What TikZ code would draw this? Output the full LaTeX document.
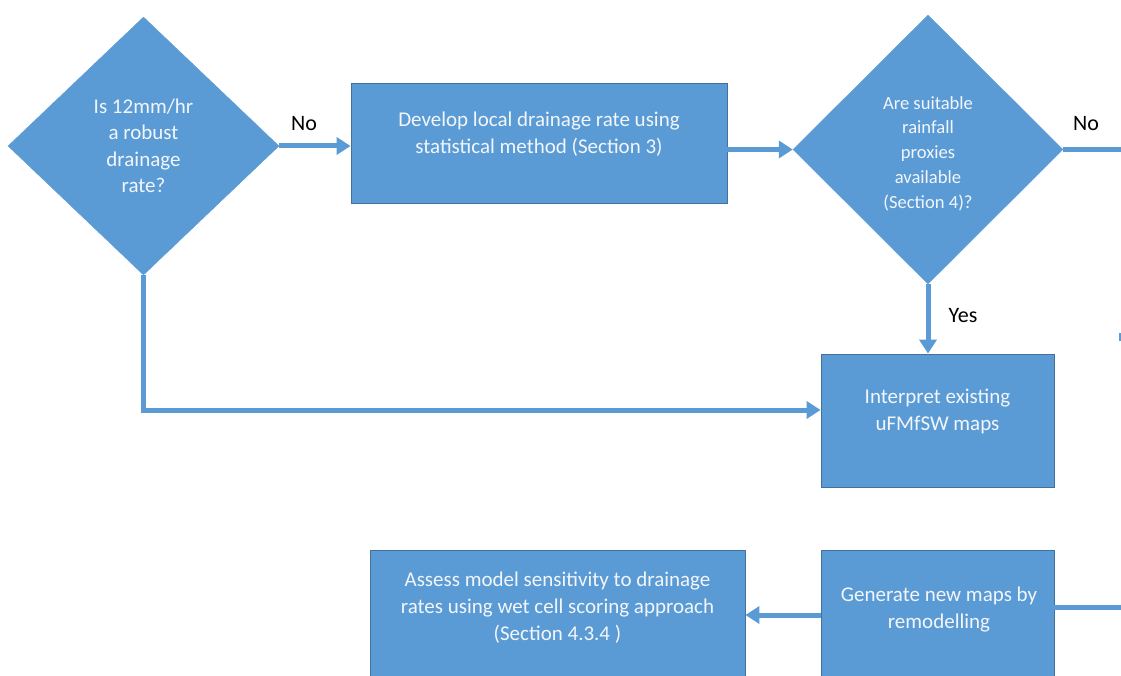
\documentclass[tikz,border=0pt]{standalone}
\usepackage{fontspec}
\setmainfont{Carlito}
\usetikzlibrary{shapes.geometric,arrows.meta,calc}
\definecolor{boxfill}{RGB}{91,155,213}
\definecolor{boxedge}{RGB}{65,113,156}
\definecolor{txtw}{RGB}{242,246,250}
\tikzset{
  decision/.style={diamond,fill=boxfill,draw=boxfill,inner sep=0pt,text=txtw,align=center,font=\fontsize{21}{26.5}\selectfont},
  process/.style={rectangle,fill=boxfill,draw=boxedge,line width=0.8pt,inner sep=0pt},
  ptext/.style={text=txtw,align=center,font=\fontsize{21}{27}\selectfont,inner sep=0pt},
  lbl/.style={text=black,font=\fontsize{22}{24}\selectfont,inner sep=0pt},
  conn/.style={draw=boxfill,line width=5pt},
  arr/.style={conn,-{Triangle[length=14pt,width=17pt]}},
}
\begin{document}
\begin{tikzpicture}[x=1pt,y=-1pt]
\useasboundingbox (0,0) rectangle (1121,676);
\clip (0,0) rectangle (1121,676);
% decisions
\node[decision,minimum width=271pt,minimum height=258pt] (d1) at (143.5,146) {Is 12mm/hr\\a robust\\drainage\\rate?};
\node[decision,minimum width=270pt,minimum height=269pt] (d2) at (928,149.5) {};
\node[ptext,font=\fontsize{18.6}{24.8}\selectfont] (t2d) at ($(d2.center)+(0,4)$) {Are suitable\\rainfall\\proxies\\available\\(Section 4)?};
% process boxes
\node[process,minimum width=376pt,minimum height=120pt] (b1) at (539,143) {};
\node[ptext] (t1) at ($(b1.center)+(0,-8.5)$) {Develop local drainage rate using\\statistical method (Section 3)};
\node[process,minimum width=233pt,minimum height=133pt] (b2) at (937.5,420.5) {};
\node[ptext] (t2) at ($(b2.center)+(0,-9)$) {Interpret existing\\uFMfSW maps};
\node[process,minimum width=233pt,minimum height=140pt] (b3) at (937.5,620) {};
\node[ptext] (t3) at (939,609.5) {Generate new maps by\\remodelling};
\node[process,minimum width=375pt,minimum height=140pt] (b4) at (557.5,620) {};
\node[ptext] (t4) at (557.5,608) {Assess model sensitivity to drainage\\rates using wet cell scoring approach\\(Section 4.3.4 )};
% free ends
\coordinate (e1) at (1121,149.5);
\coordinate (e2) at (1121,607);
\coordinate (k1) at (143.5,410);
% connectors
\draw[arr] (d1.east) -- (d1.east -| b1.west);
\draw[arr] (d2.west -| b1.east) -- (d2.west);
\draw[conn] (d2.east) -- (e1);
\draw[arr] (d2.south) -- (d2.south |- b2.north);
\draw[arr,line join=miter] (d1.south) -- (k1) -- (k1 -| b2.west);
\draw[conn] (e2) -- (e2 -| b3.east);
\draw[arr] ($(b3.west)+(0,-5)$) -- ($(b3.west -| b4.east)+(0,-5)$);
% tiny fragment at right edge
\fill[boxfill] (1118.5,333) rectangle (1121,341);
% labels
\node[lbl] (n1) at (304,124) {No};
\node[lbl] (n2) at (1086,124) {No};
\node[lbl] (y1) at (963,316) {Yes};
\end{tikzpicture}
\end{document}
